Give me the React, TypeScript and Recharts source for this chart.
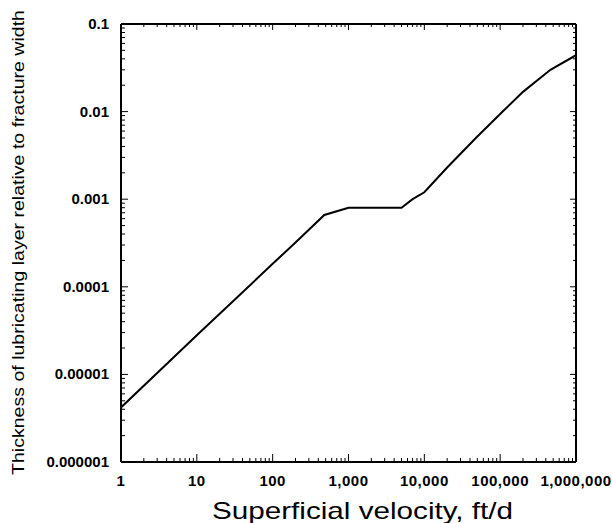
import React from "react"
import { Line, LineChart, XAxis, YAxis } from "recharts"

// Superficial velocity (ft/d) and relative lubricating layer thickness
const velocity = [1, 10, 100, 200, 480, 1000, 5000, 7000, 10000, 20000, 50000, 100000, 200000, 460000, 1000000]
const thickness = [4.2e-6, 2.8e-5, 1.83e-4, 3.2e-4, 6.6e-4, 8.0e-4, 8.0e-4, 1.0e-3, 1.2e-3, 2.3e-3, 5.2e-3, 0.0094, 0.0168, 0.03, 0.044]

const xMajor = [1, 10, 100, 1000, 10000, 100000, 1000000]
const xLabels = ["1", "10", "100", "1,000", "10,000", "100,000", "1,000,000"]
const yMajor = [0.000001, 0.00001, 0.0001, 0.001, 0.01, 0.1]
const yLabels = ["0.000001", "0.00001", "0.0001", "0.001", "0.01", "0.1"]
const minorSteps = [2, 3, 4, 5, 6, 7, 8, 9]

const withMinor = (majors: number[]) =>
  majors.flatMap((m, i) => (i < majors.length - 1 ? [m, ...minorSteps.map((s) => m * s)] : [m]))

const xTicks = withMinor(xMajor)
const yTicks = withMinor(yMajor)

const data = velocity.map((v, i) => ({ v, t: thickness[i] }))

const FONT = "'Liberation Sans', Arial, sans-serif"

const majorIndex = (majors: number[], value: number) =>
  majors.findIndex((m) => Math.abs(m - value) / m < 1e-6)

function BottomTick({ x, y, payload }: any) {
  const i = majorIndex(xMajor, payload.value)
  return (
    <g>
      <line x1={x} y1={y} x2={x} y2={y - (i >= 0 ? 8 : 4)} stroke="#000" strokeWidth={1} />
      {i >= 0 && (
        <text
          x={x}
          y={y + 24}
          textAnchor="middle"
          fontFamily={FONT}
          fontSize={15}
          fontWeight="bold"
          letterSpacing={0.5}
          fill="#000"
        >
          {xLabels[i]}
        </text>
      )}
    </g>
  )
}

function TopTick({ x, y, payload }: any) {
  const i = majorIndex(xMajor, payload.value)
  return <line x1={x} y1={y} x2={x} y2={y + (i >= 0 ? 6 : 3)} stroke="#000" strokeWidth={1} />
}

function LeftTick({ x, y, payload }: any) {
  const i = majorIndex(yMajor, payload.value)
  return (
    <g>
      <line x1={x} y1={y} x2={x + (i >= 0 ? 7 : 4)} y2={y} stroke="#000" strokeWidth={1} />
      {i >= 0 && (
        <text x={x - 12} y={y + 5} textAnchor="end" fontFamily={FONT} fontSize={15} fontWeight="bold" fill="#000">
          {yLabels[i]}
        </text>
      )}
    </g>
  )
}

function RightTick({ x, y, payload }: any) {
  const i = majorIndex(yMajor, payload.value)
  return <line x1={x} y1={y} x2={x - (i >= 0 ? 6 : 3)} y2={y} stroke="#000" strokeWidth={1} />
}

export default function App() {
  return (
    <div style={{ position: "absolute", left: 0, top: 0, background: "#fff" }}>
      <LineChart width={612} height={523} data={data} margin={{ top: 0, right: 0, bottom: 0, left: 0 }}>
        <XAxis
          dataKey="v"
          type="number"
          scale="log"
          domain={[1, 1000000]}
          allowDataOverflow
          ticks={xTicks}
          interval={0}
          height={61}
          tickSize={0}
          tickMargin={0}
          axisLine={{ stroke: "#000", strokeWidth: 2 }}
          tick={(p: any) => <BottomTick {...p} />}
          label={{
            content: () => (
              <text
                x={212}
                y={519}
                textLength={301}
                lengthAdjust="spacingAndGlyphs"
                fontFamily={FONT}
                fontSize={24}
                fill="#000"
              >
                Superficial velocity, ft/d
              </text>
            ),
          }}
        />
        <XAxis
          xAxisId="top"
          orientation="top"
          dataKey="v"
          type="number"
          scale="log"
          domain={[1, 1000000]}
          allowDataOverflow
          ticks={xTicks}
          interval={0}
          height={24}
          tickSize={0}
          tickMargin={0}
          axisLine={{ stroke: "#000", strokeWidth: 2 }}
          tick={(p: any) => <TopTick {...p} />}
        />
        <YAxis
          type="number"
          scale="log"
          domain={[0.000001, 0.1]}
          allowDataOverflow
          ticks={yTicks}
          interval={0}
          width={121}
          tickSize={0}
          tickMargin={0}
          axisLine={{ stroke: "#000", strokeWidth: 2 }}
          tick={(p: any) => <LeftTick {...p} />}
          label={{
            content: () => (
              <text
                transform="translate(24,475) rotate(-90)"
                x={0}
                y={0}
                textLength={465}
                lengthAdjust="spacingAndGlyphs"
                fontFamily={FONT}
                fontSize={17}
                fill="#000"
              >
                Thickness of lubricating layer relative to fracture width
              </text>
            ),
          }}
        />
        <YAxis
          yAxisId="right"
          orientation="right"
          type="number"
          scale="log"
          domain={[0.000001, 0.1]}
          allowDataOverflow
          ticks={yTicks}
          interval={0}
          width={36}
          tickSize={0}
          tickMargin={0}
          axisLine={{ stroke: "#000", strokeWidth: 2 }}
          tick={(p: any) => <RightTick {...p} />}
        />
        <Line
          type="linear"
          dataKey="t"
          stroke="#000"
          strokeWidth={2}
          dot={false}
          isAnimationActive={false}
        />
      </LineChart>
    </div>
  )
}
